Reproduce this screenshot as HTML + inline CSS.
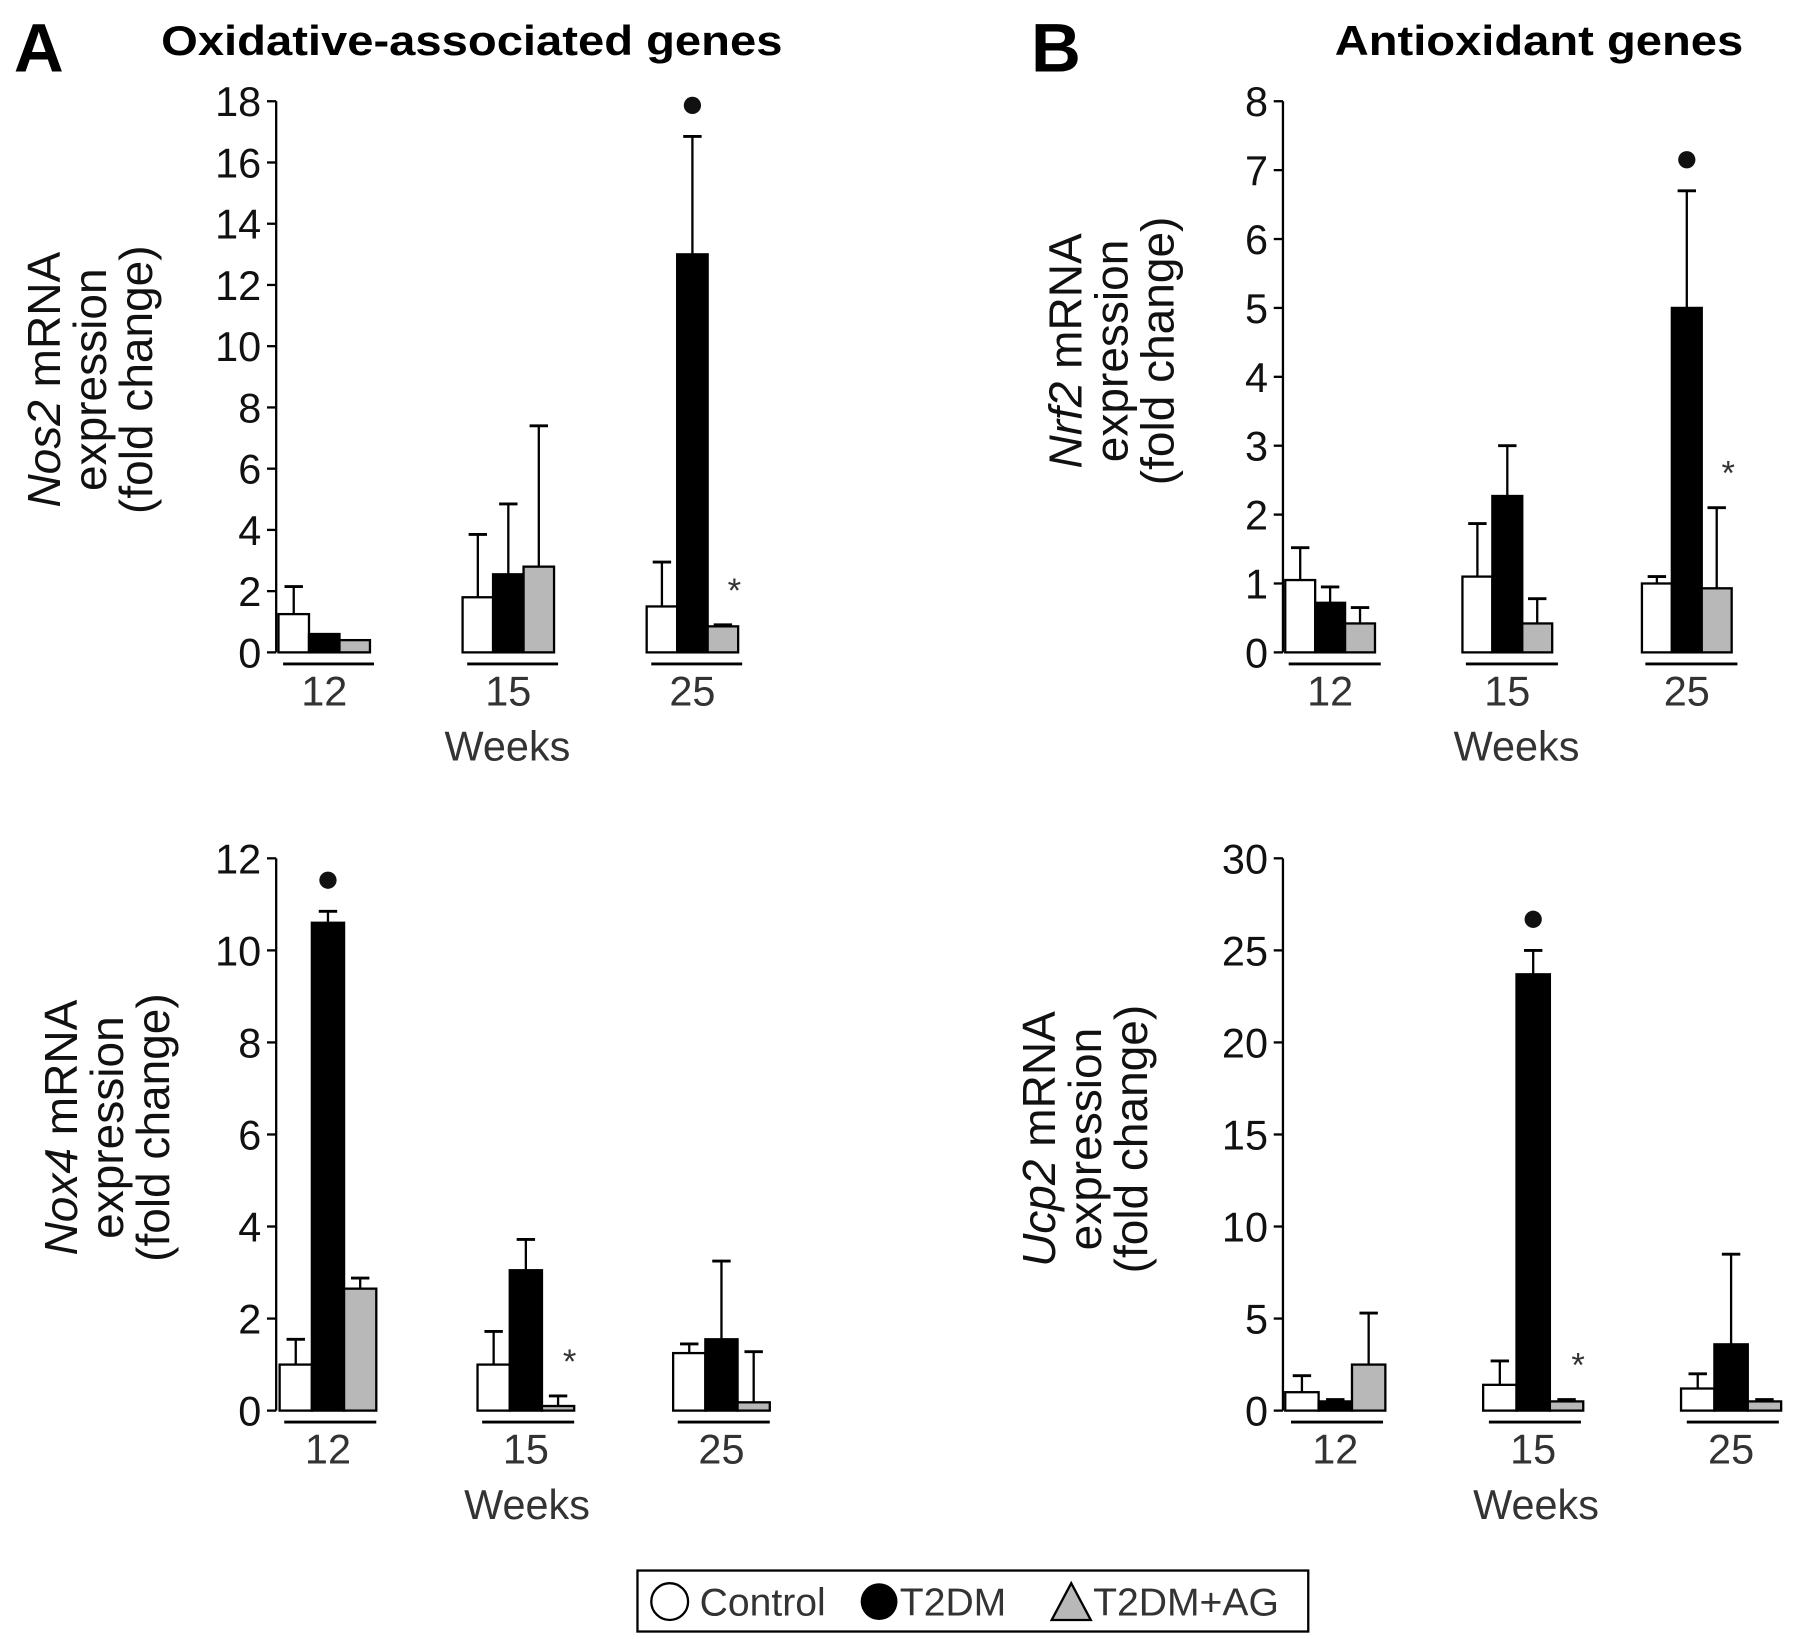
<!DOCTYPE html>
<html><head><meta charset="utf-8"><style>
html,body{margin:0;padding:0;background:#fff;}
svg{display:block;font-family:"Liberation Sans",Arial,sans-serif;}
</style></head><body>
<svg id="fig" width="1795" height="1639" viewBox="0 0 1560 1424.5" xmlns="http://www.w3.org/2000/svg">
<text x="12" y="62" font-size="60" font-weight="bold">A</text>
<text x="140" y="48" font-size="36" font-weight="bold" textLength="540" lengthAdjust="spacingAndGlyphs">Oxidative-associated genes</text>
<text x="896" y="62" font-size="60" font-weight="bold">B</text>
<text x="1160" y="48" font-size="36" font-weight="bold" textLength="355" lengthAdjust="spacingAndGlyphs">Antioxidant genes</text>
<g>
<rect x="554" y="1365" width="583" height="53" fill="#fff" stroke="#000" stroke-width="2"/>
<circle cx="582" cy="1392" r="16" fill="#fff" stroke="#000" stroke-width="2"/>
<text x="608" y="1404" font-size="34" fill="#333">Control</text>
<circle cx="764" cy="1392" r="16" fill="#000"/>
<text x="782" y="1404" font-size="34" fill="#333">T2DM</text>
<polygon points="931,1376 914,1408 948,1408" fill="#b8b8b8" stroke="#000" stroke-width="2"/>
<text x="950" y="1404" font-size="34" fill="#333">T2DM+AG</text>
</g>
</svg>
<script>
// Nos2
const nos2Control=[1.25,1.8,1.5], nos2ControlErr=[2.15,3.85,2.95];
const nos2T2dm=[0.6,2.55,13.0], nos2T2dmErr=[0.6,4.85,16.85];
const nos2Ag=[0.4,2.8,0.85], nos2AgErr=[0.4,7.4,0.9];
// Nrf2
const nrf2Control=[1.05,1.1,1.0], nrf2ControlErr=[1.52,1.87,1.1];
const nrf2T2dm=[0.72,2.27,5.0], nrf2T2dmErr=[0.95,3.0,6.7];
const nrf2Ag=[0.42,0.42,0.93], nrf2AgErr=[0.65,0.78,2.1];
// Nox4
const nox4Control=[1.0,1.0,1.25], nox4ControlErr=[1.55,1.72,1.45];
const nox4T2dm=[10.6,3.05,1.55], nox4T2dmErr=[10.85,3.72,3.25];
const nox4Ag=[2.65,0.1,0.18], nox4AgErr=[2.88,0.32,1.28];
// Ucp2
const ucp2Control=[1.0,1.4,1.2], ucp2ControlErr=[1.9,2.7,2.0];
const ucp2T2dm=[0.5,23.7,3.6], ucp2T2dmErr=[0.6,25.0,8.5];
const ucp2Ag=[2.5,0.5,0.5], ucp2AgErr=[5.3,0.6,0.6];
const weeks=['12','15','25'];
const nos2Ticks=[0,2,4,6,8,10,12,14,16,18];
const nrf2Ticks=[0,1,2,3,4,5,6,7,8];
const nox4Ticks=[0,2,4,6,8,10,12];
const ucp2Ticks=[0,5,10,15,20,25,30];

const NS='http://www.w3.org/2000/svg', svg=document.getElementById('fig');
function el(t,a,p){const e=document.createElementNS(NS,t);for(const k in a)e.setAttribute(k,a[k]);(p||svg).appendChild(e);return e;}
const fills=['#fff','#000','#b8b8b8'];
const snames=['control','t2dm','t2dm-ag'];
function panel(cfg){
  const g=el('g',{});
  
  
  const max=cfg.ticks[cfg.ticks.length-1];
  const y=v=>cfg.y0-(v/max)*(cfg.y0-cfg.yTop);
  el('line',{x1:cfg.ax,y1:y(max),x2:cfg.ax,y2:cfg.y0,stroke:'#000','stroke-width':2},g);
  cfg.ticks.forEach(t=>{
    el('line',{x1:cfg.ax-8,y1:y(t),x2:cfg.ax,y2:y(t),stroke:'#000','stroke-width':2},g);
    const tx=el('text',{x:cfg.ax-13,y:y(t)+13,'font-size':36,'text-anchor':'end',fill:'#111'},g);
    tx.textContent=t;
    
    
  });
  const series=[[cfg.c,cfg.ce],[cfg.t,cfg.te],[cfg.a,cfg.ae]];
  weeks.forEach((w,i)=>{
    const gx=cfg.gx[i];
    series.forEach((s,j)=>{
      const x=gx+j*cfg.bw, v=s[0][i], e=s[1][i];
      const cx=x+cfg.bw/2;
      if(e>v){
        el('line',{x1:cx,y1:y(e),x2:cx,y2:y(v),stroke:'#000','stroke-width':2},g);
        el('line',{x1:cx-8,y1:y(e),x2:cx+8,y2:y(e),stroke:'#000','stroke-width':2.5},g);
      }
      const r=el('rect',{x:x,y:y(v),width:cfg.bw,height:cfg.y0-y(v),fill:fills[j],stroke:'#000','stroke-width':2},g);
      
      
    });
    el('line',{x1:gx+cfg.ul[0],y1:cfg.y0+10,x2:gx+cfg.ul[1],y2:cfg.y0+10,stroke:'#000','stroke-width':2.5},g);
    const lt=el('text',{x:gx+cfg.bw*1.5,y:cfg.y0+46,'font-size':36,'text-anchor':'middle',fill:'#333'},g);
    lt.textContent=w;
    
    
  });
  const wk=el('text',{x:cfg.wx,y:cfg.y0+94,'font-size':36,'text-anchor':'middle',fill:'#333'},g);
  wk.textContent='Weeks';
  
  
  const di=cfg.dot, dx=cfg.gx[di[0]]+cfg.bw*1.5;
  const d=el('circle',{cx:dx,cy:y(series[1][1][di[0]])-27,r:7.5,fill:'#111'},g);
  
  
  const si=cfg.star, sx=cfg.gx[si]+cfg.bw*2.5+10;
  const st=el('text',{x:sx,y:y(Math.max(series[2][1][si],series[2][0][si]))-20,'font-size':30,'text-anchor':'middle',fill:'#333'},g);
  st.textContent='*';
  
  
  const yt=el('text',{transform:`translate(${cfg.tx},${cfg.ty}) rotate(-90)`,'font-size':40,'text-anchor':'middle',fill:'#111'},g);
  
  
  const l1=el('tspan',{x:0,dy:0},yt);
  const it=el('tspan',{'font-style':'italic'},l1);it.textContent=cfg.gene;
  const rest=el('tspan',{},l1);rest.textContent=' mRNA';
  const l2=el('tspan',{x:0,dy:40},yt);l2.textContent='expression';
  const l3=el('tspan',{x:0,dy:40},yt);l3.textContent='(fold change)';
}
panel({name:'nos2',gene:'Nos2',ax:240,y0:567,yTop:88,ticks:nos2Ticks,gx:[242,402,562],bw:26.5,ul:[4,83],wx:441,
  c:nos2Control,ce:nos2ControlErr,t:nos2T2dm,te:nos2T2dmErr,a:nos2Ag,ae:nos2AgErr,dot:[2],star:2,tx:52,ty:330});
panel({name:'nrf2',gene:'Nrf2',ax:1115,y0:567,yTop:88,ticks:nrf2Ticks,gx:[1117,1271,1427],bw:26,ul:[3,83],wx:1318,
  c:nrf2Control,ce:nrf2ControlErr,t:nrf2T2dm,te:nrf2T2dmErr,a:nrf2Ag,ae:nrf2AgErr,dot:[2],star:2,tx:940,ty:305});
panel({name:'nox4',gene:'Nox4',ax:240,y0:1226,yTop:746,ticks:nox4Ticks,gx:[243,415,585],bw:28,ul:[4,84],wx:458,
  c:nox4Control,ce:nox4ControlErr,t:nox4T2dm,te:nox4T2dmErr,a:nox4Ag,ae:nox4AgErr,dot:[0],star:1,tx:67,ty:980});
panel({name:'ucp2',gene:'Ucp2',ax:1115,y0:1226,yTop:746,ticks:ucp2Ticks,gx:[1117,1289,1461],bw:29,ul:[5,85],wx:1335,
  c:ucp2Control,ce:ucp2ControlErr,t:ucp2T2dm,te:ucp2T2dmErr,a:ucp2Ag,ae:ucp2AgErr,dot:[1],star:1,tx:917,ty:990});
</script>
</body></html>
